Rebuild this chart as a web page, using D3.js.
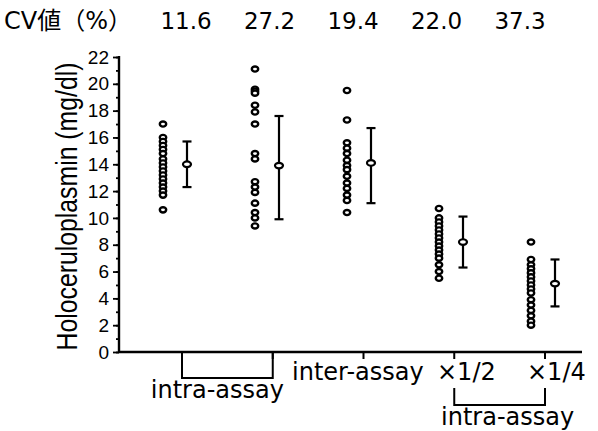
<!DOCTYPE html>
<html><head><meta charset="utf-8">
<script src="https://cdn.jsdelivr.net/npm/d3@7"></script>
<style>html,body{margin:0;padding:0;background:#fff;}svg{display:block;}</style>
</head><body>
<script>
// ---- data ----
const groups = ["intra-assay A", "intra-assay B", "inter-assay", "×1/2", "×1/4"];
const cvValues = ["11.6", "27.2", "19.4", "22.0", "37.3"];
const cvTitle = "CV値（%）";
const yTicks = [0, 2, 4, 6, 8, 10, 12, 14, 16, 18, 20, 22];
const yTitle = "Holoceruloplasmin (mg/dl)";
const points0 = [17.0, 16.0, 15.7, 15.4, 15.1, 14.8, 14.4, 14.1, 13.8, 13.5, 13.2, 12.9, 12.6, 12.3, 12.0, 11.7, 10.6];
const points1 = [21.1, 19.6, 19.45, 19.3, 18.4, 17.9, 17.0, 14.8, 14.4, 12.7, 12.3, 11.9, 11.1, 10.4, 10.0, 9.4];
const points2 = [19.5, 17.3, 15.6, 15.2, 14.8, 14.3, 13.9, 13.6, 13.1, 12.6, 12.2, 11.7, 11.3, 10.4];
const points3 = [10.7, 10.0, 9.7, 9.4, 9.1, 8.8, 8.5, 8.2, 7.9, 7.6, 7.3, 7.0, 6.5, 6.0, 5.5];
const points4 = [8.2, 6.9, 6.5, 6.2, 5.9, 5.6, 5.3, 5.0, 4.7, 4.4, 3.9, 3.5, 3.1, 2.7, 2.3, 2.0];
const means = [14.0, 13.9, 14.1, 8.2, 5.1];
const upper = [15.7, 17.6, 16.7, 10.1, 6.9];
const lower = [12.3, 9.9, 11.1, 6.3, 3.4];
const axisLabels = ["inter-assay", "×1/2", "×1/4"];
const bracketLabel = "intra-assay";

const pointSets = [points0, points1, points2, points3, points4];

// ---- layout ----
const W = 598, H = 431;
const svg = d3.select("body").append("svg").attr("width", W).attr("height", H)
  .style("font-family", "'DejaVu Sans', sans-serif");

const y = d3.scaleLinear().domain([0, 22]).range([352, 57]);
const gx = d3.scalePoint().domain(d3.range(groups.length)).range([174, 542]);
const tx = d3.scalePoint().domain(d3.range(groups.length)).range([182, 545]);
const cx = d3.scalePoint().domain(d3.range(groups.length)).range([186, 520]);
const axisX = 119, baseY = y(0);

// CV row
svg.append("text").attr("x", 4).attr("y", 29)
  .style("font-family", "'DejaVu Sans','Noto Sans CJK JP',sans-serif").style("font-size", "24px")
  .text(cvTitle);
svg.selectAll(".cv").data(cvValues).enter().append("text")
  .attr("x", (d, i) => cx(i)).attr("y", 29).attr("text-anchor", "middle")
  .style("font-size", "23px").text(d => d);

// Y axis
const yAxisG = svg.append("g").attr("transform", `translate(${axisX},0)`);
yAxisG.call(d3.axisLeft(y).tickValues(d3.range(0, 23, 1)).tickSize(3).tickFormat(""));
yAxisG.call(g => g.select(".domain").remove());
const yMajor = svg.append("g").attr("transform", `translate(${axisX},0)`)
  .call(d3.axisLeft(y).tickValues(yTicks).tickSize(6).tickPadding(4));
yMajor.select(".domain").remove();
yMajor.selectAll("text").style("font-family", "'Liberation Sans', Arial, sans-serif").style("font-size", "19px");
svg.selectAll(".tick line").attr("stroke", "#000").attr("stroke-width", 1.8);
svg.append("line").attr("x1", axisX).attr("x2", axisX).attr("y1", y(22) - 1).attr("y2", baseY + 1)
  .attr("stroke", "#000").attr("stroke-width", 2.4);

// Y title
svg.append("text").attr("transform", `translate(77,${(y(22) + baseY) / 2 + 2}) rotate(-90)`)
  .attr("text-anchor", "middle")
  .attr("textLength", 288).attr("lengthAdjust", "spacingAndGlyphs")
  .style("font-family", "'Liberation Sans', Arial, sans-serif").style("font-size", "30px")
  .text(yTitle);

// X axis
svg.append("line").attr("x1", axisX).attr("x2", 582).attr("y1", baseY).attr("y2", baseY)
  .attr("stroke", "#000").attr("stroke-width", 2.4);
svg.selectAll(".xt").data(d3.range(groups.length)).enter().append("line")
  .attr("x1", i => tx(i)).attr("x2", i => tx(i)).attr("y1", baseY).attr("y2", baseY + 7)
  .attr("stroke", "#000").attr("stroke-width", 2);

// brackets
const br1 = [tx(0), tx(1)], brY1 = 378;
svg.append("path").attr("d", `M${br1[0]},${baseY}V${brY1}H${br1[1]}V${baseY}`)
  .attr("fill", "none").attr("stroke", "#000").attr("stroke-width", 2);
svg.append("text").attr("x", (br1[0] + br1[1]) / 2 - 10).attr("y", 398).attr("text-anchor", "middle")
  .style("font-size", "24px").text(bracketLabel);
const br2 = [tx(3), tx(4)];
svg.append("path").attr("d", `M${br2[0]},388V405H${br2[1]}V388`)
  .attr("fill", "none").attr("stroke", "#000").attr("stroke-width", 2);
svg.append("text").attr("x", (br2[0] + br2[1]) / 2 + 8).attr("y", 425).attr("text-anchor", "middle")
  .style("font-size", "24px").text(bracketLabel);

// axis category labels
const labelX = [292, 437, 527];
svg.selectAll(".xl").data(axisLabels).enter().append("text")
  .attr("x", (d, i) => labelX[i]).attr("y", 380)
  .style("font-size", "24px").text(d => d);

// points
pointSets.forEach((pts, i) => {
  svg.selectAll(".p" + i).data(pts).enter().append("ellipse")
    .attr("cx", gx(i) - 11).attr("cy", d => y(d)).attr("rx", 3.2).attr("ry", 2.6)
    .attr("fill", "#fff").attr("stroke", "#000").attr("stroke-width", 2.4);
});

// error bars
const bx = i => gx(i) + 13;
groups.forEach((g, i) => {
  svg.append("line").attr("x1", bx(i)).attr("x2", bx(i)).attr("y1", y(upper[i])).attr("y2", y(lower[i]))
    .attr("stroke", "#000").attr("stroke-width", 2.2);
  [upper[i], lower[i]].forEach(v => svg.append("line")
    .attr("x1", bx(i) - 4.5).attr("x2", bx(i) + 4.5).attr("y1", y(v)).attr("y2", y(v))
    .attr("stroke", "#000").attr("stroke-width", 2.2));
  svg.append("ellipse").attr("cx", bx(i)).attr("cy", y(means[i])).attr("rx", 4).attr("ry", 2.8)
    .attr("fill", "#fff").attr("stroke", "#000").attr("stroke-width", 2.2);
});
</script>
</body></html>
